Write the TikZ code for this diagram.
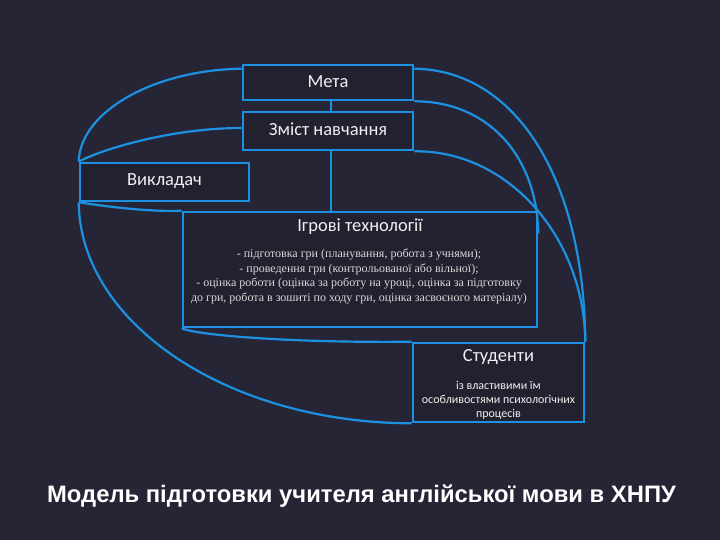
\documentclass[tikz,border=0pt]{standalone}
\usepackage{fontspec}
\usetikzlibrary{calc}
\newfontfamily\calf{Carlito}
\newfontfamily\tnrf{Liberation Serif}
\newfontfamily\arf{Liberation Sans}
\definecolor{bgc}{RGB}{38,37,53}
\definecolor{boxc}{RGB}{34,33,47}
\definecolor{bluec}{RGB}{28,145,225}
\definecolor{txtc}{RGB}{240,240,240}
\tikzset{
  boxnode/.style={draw=bluec, line width=2.6pt, fill=boxc, rectangle, inner sep=0pt},
  link/.style={draw=bluec, line width=2.2pt},
  ttl/.style={text=txtc, inner sep=0pt, font=\calf\fontsize{18.5}{22}\selectfont},
}
\begin{document}
\begin{tikzpicture}[x=1pt, y=-1pt]
\fill[bgc] (0,0) rectangle (720,540);
\useasboundingbox (0,0) rectangle (720,540);
% boxes
\node[boxnode, minimum width=170pt, minimum height=35pt] (meta) at (328,82.5) {};
\node[boxnode, minimum width=170pt, minimum height=38pt] (zmist) at (328,131) {};
\node[boxnode, minimum width=169pt, minimum height=38pt] (vykl) at (164.5,182) {};
\node[boxnode, minimum width=354pt, minimum height=115pt] (igr) at (360,269.5) {};
\node[boxnode, minimum width=171pt, minimum height=79pt] (stud) at (498.5,382.5) {};
% vertical connectors
\draw[link] ([xshift=3pt]meta.south) -- ([xshift=3pt]zmist.north);
\draw[link] ([xshift=3pt]zmist.south) -- ([xshift=3pt]zmist.south |- igr.north);
% left curves
\draw[link] ($(meta.north west)+(0,5)$) .. controls (153,70) and (80,112) .. (vykl.north west);
\draw[link] ($(zmist.west)+(0,-3)$) .. controls (170,128) and (100,150) .. (vykl.north west);
\draw[link] (vykl.south west) .. controls (110,207) and (150,212) .. (igr.north west);
\draw[link] (vykl.south west) .. controls (80,324) and (229,423) .. (stud.south west);
\draw[link] (igr.south west) .. controls (200,336) and (300,343) .. (stud.north west);
% right curves
\draw[link] ($(meta.north east)+(0,5)$) .. controls (516,70) and (584,179) .. (stud.north east);
\coordinate (r2end) at ($(igr.north east)+(0,23)$);
\draw[link] (meta.south east) .. controls (487,101) and (537,155) .. (r2end);
\draw[link] (zmist.south east) .. controls (507,150) and (584,236) .. (stud.north east);
% texts
\node[ttl] (tmeta) at (328,82) {Мета};
\node[ttl] (tzmist) at (328,129.5) {Зміст навчання};
\node[ttl] (tvykl) at (164.5,181) {Викладач};
\node[ttl] (tigr) at (360,227) {Ігрові технології};
\node[text=txtc!88!bgc, inner sep=0pt, align=center, font=\tnrf\fontsize{12}{14.4}\selectfont] (bigr) at (359,276.5) {- підготовка гри (планування, робота з учнями);\\- проведення гри (контрольованої або вільної);\\- оцінка роботи (оцінка за роботу на уроці, оцінка за підготовку\\до гри, робота в зошиті по ходу гри, оцінка засвоєного матеріалу)};
\node[ttl] (tstud) at (498.5,357.5) {Студенти};
\node[text=txtc, inner sep=0pt, align=center, font=\calf\fontsize{12}{14}\selectfont] (bstud) at (498.5,400) {із властивими їм\\особливостями психологічних\\процесів};
\node[text=white, inner sep=0pt, font=\arf\bfseries\fontsize{23.8}{28}\selectfont] (title) at (361.5,496) {Модель підготовки учителя англійської мови в ХНПУ};
\end{tikzpicture}
\end{document}
